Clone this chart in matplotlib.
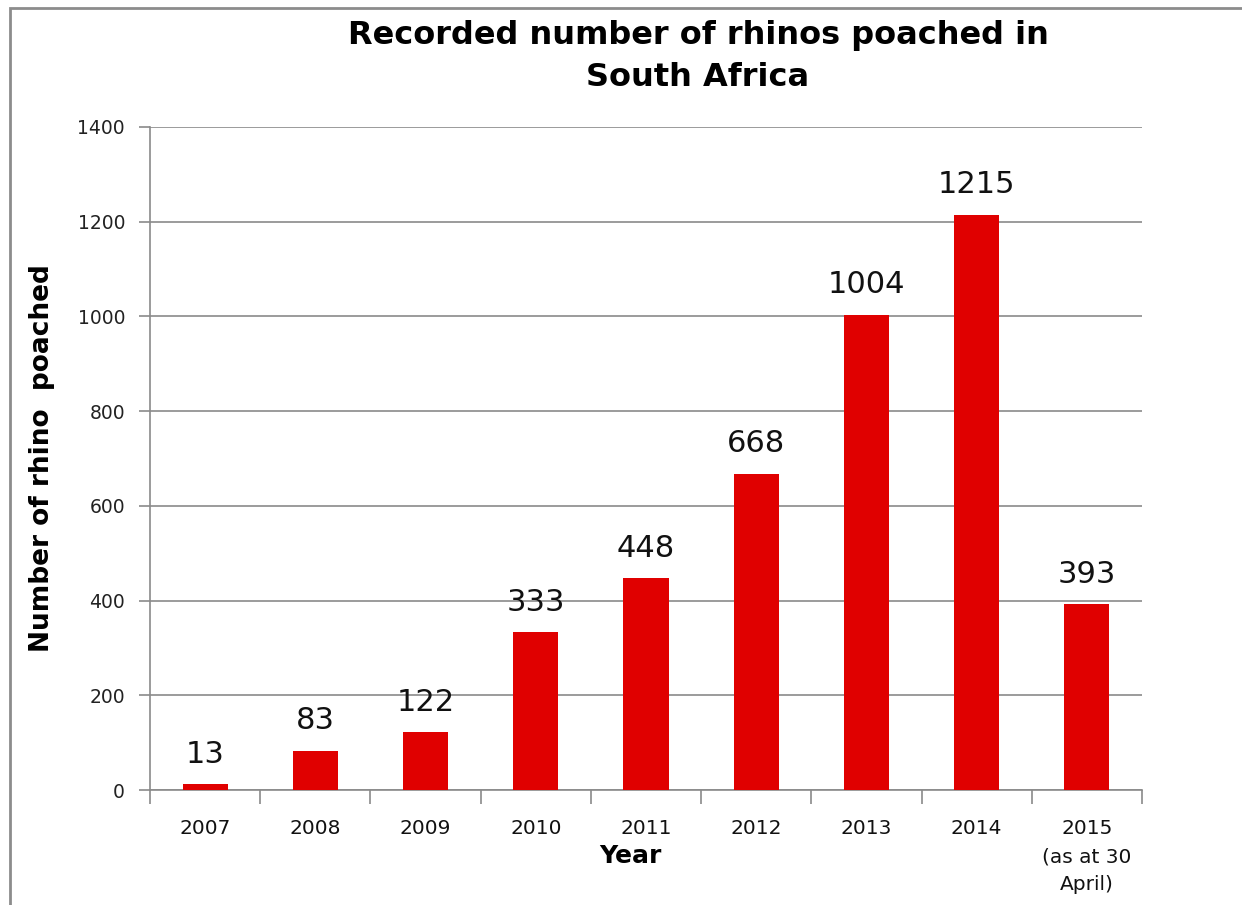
import matplotlib.pyplot as plt
from matplotlib.patches import Rectangle

years = ['2007', '2008', '2009', '2010', '2011', '2012', '2013', '2014',
         '2015\n(as at 30\nApril)']
poached = [13, 83, 122, 333, 448, 668, 1004, 1215, 393]
y_ticks = [0, 200, 400, 600, 800, 1000, 1200, 1400]

fig = plt.figure(figsize=(12.42, 9.05), dpi=100)
ax = fig.add_axes([150 / 1242, 1 - 790 / 905, 992 / 1242, 663 / 905])

x = list(range(len(years)))
ax.bar(x, poached, width=0.41, color='#e00000', zorder=3)

# value labels above the bars
for xi, v in zip(x, poached):
    ax.annotate(str(v), (xi, v), xytext=(0, 11), textcoords='offset points',
                ha='center', va='bottom', fontsize=22, color='#111111')

ax.set_xlim(-0.5, len(years) - 0.5)
ax.set_ylim(0, 1400)
ax.set_yticks(y_ticks)
ax.set_yticklabels([str(t) for t in y_ticks], fontsize=13.5, color='#222222')
ax.yaxis.grid(True, color='#8a8a8a', linewidth=1.2, zorder=0)

# category labels at centres, tick marks on the boundaries
ax.set_xticks(x)
ax.set_xticklabels(years, fontsize=14.5, color='#111111',
                   linespacing=1.6, va='top')
ax.tick_params(axis='x', which='major', length=0, pad=21)
ax.set_xticks([i - 0.5 for i in range(len(years) + 1)], minor=True)
ax.tick_params(axis='x', which='minor', length=10, color='#8a8a8a', width=1.2)
ax.tick_params(axis='y', length=8, color='#8a8a8a', width=1.2, pad=10)

for side in ['top', 'right']:
    ax.spines[side].set_visible(False)
for side in ['left', 'bottom']:
    ax.spines[side].set_color('#8a8a8a')
    ax.spines[side].set_linewidth(1.2)

ax.set_ylabel('Number of rhino  poached', fontsize=19, fontweight='bold',
              labelpad=16)
fig.text(630 / 1242, 1 - 856 / 905, 'Year', ha='center', va='center',
         fontsize=18, fontweight='bold')

fig.text(698 / 1242, 1 - 20 / 905,
         'Recorded number of rhinos poached in\nSouth Africa',
         ha='center', va='top', fontsize=23, fontweight='bold',
         linespacing=1.45)

# chart-area border (left and top edges visible)
fig.patches.append(Rectangle((10 / 1242, -0.1), 1.2, 1 - 8 / 905 + 0.1,
                             transform=fig.transFigure, fill=False,
                             edgecolor='#8c8c8c', linewidth=2))

fig.savefig('out.png', dpi=100)
